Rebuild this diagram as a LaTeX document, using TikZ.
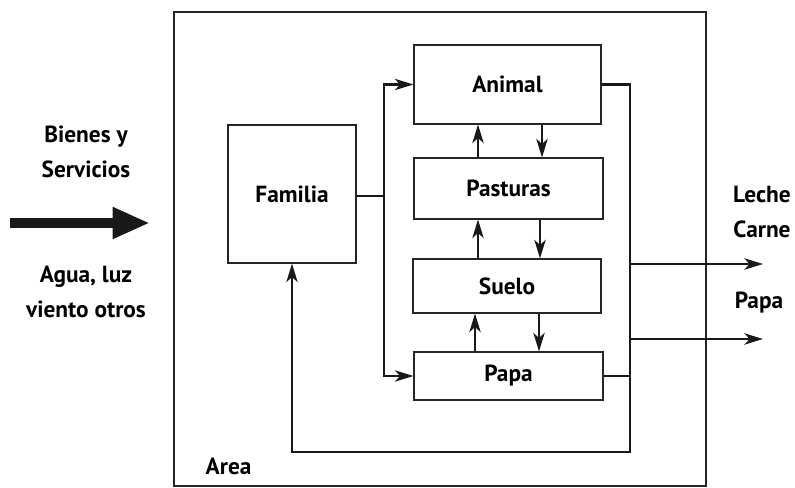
\documentclass[tikz,border=0pt]{standalone}
\usepackage{fontspec}
\setmainfont{PT Sans}
\usetikzlibrary{arrows.meta}
\begin{document}
\begin{tikzpicture}[x=0.75pt,y=-0.75pt,
  every node/.style={font=\bfseries\fontsize{17.5pt}{26pt}\selectfont, text=black},
  box/.style={draw=black!85, line width=0.8pt, inner sep=0pt},
  conn/.style={draw=black!90, line width=1.9pt},
  arr/.style={conn, -{Stealth[length=14pt,width=8.5pt,inset=4pt]}},
  lbl/.style={align=center}]
\useasboundingbox (0,0) rectangle (795,488);
% outer area frame
\node[box, minimum width=399pt, minimum height=355.5pt] (area) at (440,249) {};
\node[anchor=west] (arealbl) at (201,466) {Area};
% boxes
\node[box, minimum width=140.25pt, minimum height=59.25pt] (animal) at (507.5,84.5) {Animal};
\node[box, minimum width=141.75pt, minimum height=45.75pt] (pasturas) at (508.5,188.5) {Pasturas};
\node[box, minimum width=141pt, minimum height=40.5pt] (suelo) at (507,286) {Suelo};
\node[box, minimum width=141.75pt, minimum height=36pt] (papa) at (508.5,376) {Papa};
\node[box, minimum width=96pt, minimum height=103.5pt] (familia) at (292,194) {Familia};
% familia to trunk
\coordinate (j) at (384,196);
\draw[conn] (familia.east |- j) -- (j);
\draw[arr] (j) |- (animal.west);
\draw[arr] (j) |- (papa.west);
% vertical exchanges
\draw[arr] (pasturas.north -| 478,0) -- (animal.south -| 478,0);
\draw[arr] (animal.south -| 542,0) -- (pasturas.north -| 542,0);
\draw[arr] (suelo.north -| 478,0) -- (pasturas.south -| 478,0);
\draw[arr] (pasturas.south -| 540,0) -- (suelo.north -| 540,0);
\draw[arr] (papa.north -| 475,0) -- (suelo.south -| 475,0);
\draw[arr] (suelo.south -| 539,0) -- (papa.north -| 539,0);
% right collector and return to familia
\coordinate (r1) at (630,84.5);
\coordinate (r2) at (630,452);
\draw[arr] (animal.east) -- (r1) -- (r2) -| (familia.south);
\draw[conn] (papa.east) -- (papa.east -| r1);
% outputs
\coordinate (o1s) at (630,264);
\coordinate (o1e) at (763,264);
\coordinate (o2s) at (630,339);
\coordinate (o2e) at (763,339);
\draw[arr] (o1s) -- (o1e);
\draw[arr] (o2s) -- (o2e);
\node[lbl] (lc) at (762,212) {Leche\\Carne};
\node (pp) at (759,303) {Papa};
% input
\coordinate (ins) at (10,223);
\coordinate (ine) at (150,223);
\draw[line width=7pt, black!90, -{Triangle[length=28pt,width=22pt]}] (ins) -- (ine);
\node[lbl] (bs) at (86,152) {Bienes y\\Servicios};
\node[lbl] (ag) at (86,292) {Agua, luz\\viento otros};
\end{tikzpicture}
\end{document}
